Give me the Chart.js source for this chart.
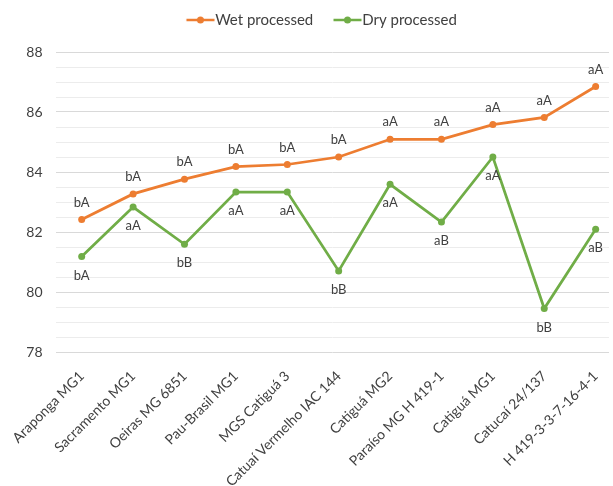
<!DOCTYPE html>
<html>
<head>
<meta charset="utf-8">
<script src="https://cdn.jsdelivr.net/npm/chart.js@4.4.1/dist/chart.umd.min.js"></script>
<style>
  html, body { margin: 0; padding: 0; background: #ffffff; }
  #wrap { width: 613px; height: 486px; }
</style>
</head>
<body>
<div id="wrap"><canvas id="chart" width="613" height="486"></canvas></div>
<script>
// Cultivars on the horizontal axis
const cultivars = [
  'Araponga MG1', 'Sacramento MG1', 'Oeiras MG 6851', 'Pau-Brasil MG1',
  'MGS Catiguá 3', 'Catuaí Vermelho IAC 144', 'Catiguá MG2',
  'Paraíso MG H 419-1', 'Catiguá MG1', 'Catucaí 24/137', 'H 419-3-3-7-16-4-1'
];

// Mean scores per processing method
const wetScores = [82.42, 83.27, 83.76, 84.18, 84.25, 84.50, 85.09, 85.09, 85.58, 85.82, 86.85];
const dryScores = [81.18, 82.83, 81.59, 83.33, 83.33, 80.70, 83.59, 82.33, 84.50, 79.45, 82.09];

// Significance letters printed next to each point
const wetLetters = ['bA', 'bA', 'bA', 'bA', 'bA', 'bA', 'aA', 'aA', 'aA', 'aA', 'aA'];
const dryLetters = ['bA', 'aA', 'bB', 'aA', 'aA', 'bB', 'aA', 'aB', 'aA', 'bB', 'aB'];

// Labelled values on the score axis
const yTickLabels = [78, 80, 82, 84, 86, 88];

const ORANGE = '#ED7D31';
const GREEN = '#70AD47';
const FONT = 'Lato, "Open Sans", sans-serif';

// Each cultivar sits at its index on a numeric x axis
const toPoints = (vals) => vals.map((v, i) => ({ x: i, y: v }));

// Legend swatch: a short line with a dot in its middle
const LEG_FS = 15;
const LEG_BOX = 41.5;
function legendSwatch(color) {
  const w = LEG_BOX + LEG_FS;
  const h = 10;
  const c = document.createElement('canvas');
  c.width = w; c.height = h;
  const g = c.getContext('2d');
  const x1 = w - 1, x0 = x1 - 28;
  g.strokeStyle = color; g.lineWidth = 2.5;
  g.beginPath(); g.moveTo(x0, h / 2); g.lineTo(x1, h / 2); g.stroke();
  g.fillStyle = color;
  g.beginPath(); g.arc((x0 + x1) / 2, h / 2, 3.5, 0, Math.PI * 2); g.fill();
  return c;
}

// Letters above the wet series, below the dry series
const letterLabels = {
  id: 'letterLabels',
  afterDatasetsDraw(chart) {
    const ctx = chart.ctx;
    const sets = [
      { letters: wetLetters, dy: -17 },
      { letters: dryLetters, dy: 19 }
    ];
    ctx.save();
    ctx.font = '13px ' + FONT;
    ctx.fillStyle = '#404040';
    ctx.textAlign = 'center';
    ctx.textBaseline = 'middle';
    sets.forEach((s, di) => {
      chart.getDatasetMeta(di).data.forEach((pt, i) => {
        ctx.fillText(s.letters[i], pt.x, pt.y + s.dy);
      });
    });
    ctx.restore();
  }
};

// Place the legend in the top band, centred over the plot
const legendPlace = {
  id: 'legendPlace',
  afterLayout(chart) {
    const dx = 5, dy = -14.5;
    const L = chart.legend;
    L.left += dx; L.right += dx;
    L.top += dy; L.bottom += dy;
  }
};

new Chart(document.getElementById('chart'), {
  type: 'line',
  data: {
    datasets: [
      {
        label: 'Wet processed',
        data: toPoints(wetScores),
        borderColor: ORANGE,
        backgroundColor: ORANGE,
        borderWidth: 2.75,
        pointRadius: 3.5,
        pointBorderWidth: 0,
        pointBackgroundColor: ORANGE,
        tension: 0
      },
      {
        label: 'Dry processed',
        data: toPoints(dryScores),
        borderColor: GREEN,
        backgroundColor: GREEN,
        borderWidth: 2.75,
        pointRadius: 3.5,
        pointBorderWidth: 0,
        pointBackgroundColor: GREEN,
        tension: 0
      }
    ]
  },
  options: {
    responsive: false,
    animation: false,
    layout: { padding: { top: 13.5, right: 0, bottom: 0, left: 0 } },
    plugins: {
      tooltip: { enabled: false },
      legend: {
        position: 'top',
        align: 'center',
        labels: {
          usePointStyle: true,
          pointStyleWidth: LEG_BOX,
          padding: 0,
          color: '#404040',
          font: { family: FONT, size: LEG_FS },
          generateLabels(chart) {
            return chart.data.datasets.map((ds, i) => ({
              text: ds.label,
              datasetIndex: i,
              pointStyle: legendSwatch(ds.borderColor),
              fillStyle: ds.borderColor,
              strokeStyle: ds.borderColor,
              fontColor: '#404040',
              lineWidth: 0,
              hidden: false
            }));
          }
        }
      }
    },
    scales: {
      x: {
        type: 'linear',
        min: -0.51,
        max: 10.26,
        grid: { display: false, drawTicks: false },
        border: { display: false },
        afterBuildTicks(scale) {
          scale.ticks = cultivars.map((_, i) => ({ value: i }));
        },
        ticks: {
          autoSkip: false,
          maxRotation: 45,
          minRotation: 45,
          padding: 16,
          color: '#404040',
          font: { family: FONT, size: 14 },
          callback: (v) => cultivars[v]
        },
        afterFit(scale) {
          scale.height = 134;
          scale.paddingLeft = 0;
          scale.paddingRight = 0;
        }
      },
      y: {
        min: 78,
        max: 88,
        border: { display: false },
        grid: {
          drawTicks: false,
          lineWidth: 1,
          color: (c) => (yTickLabels.includes(c.tick.value) ? '#d9d9d9' : '#ececec')
        },
        ticks: {
          stepSize: 0.5,
          autoSkip: false,
          padding: 13,
          color: '#404040',
          font: { family: FONT, size: 14 },
          callback: (v) => (yTickLabels.includes(v) ? String(v) : '')
        },
        afterFit(scale) {
          scale.width = 55.5;
          scale.paddingTop = 52;
        }
      }
    }
  },
  plugins: [letterLabels, legendPlace]
});
</script>
</body>
</html>
